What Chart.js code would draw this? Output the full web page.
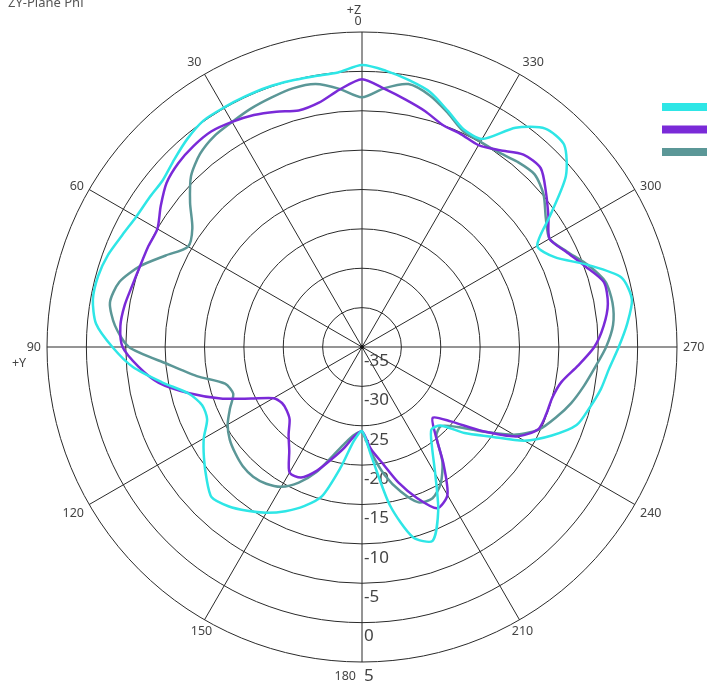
<!DOCTYPE html>
<html>
<head>
<meta charset="utf-8">
<title>ZY-Plane Phi</title>
<script src="https://cdn.jsdelivr.net/npm/chart.js@4.4.1/dist/chart.umd.min.js"></script>
<style>
  html, body { margin: 0; padding: 0; background: #fff; }
  #wrap { position: relative; width: 707px; height: 689px; overflow: hidden; }
</style>
</head>
<body>
<div id="wrap"><canvas id="patternChart" width="707" height="689"></canvas></div>
<script>
// Angles in degrees, counter-clockwise from +Z (top of the plot)
const angles = [];
for (let a = 0; a < 360; a += 5) angles.push(a);

const spokeLabels = [0, 30, 60, 90, 120, 150, 180, 210, 240, 270, 300, 330];
const radialTicks = [-35, -30, -25, -20, -15, -10, -5, 0, 5];

// gain (dB) at 0, 5, 10 ... 355 degrees
const cyanGain = [
    0.8, 0.0, -0.1, 0.0, 0.1, 0.1, 0.1, 0.1, -0.5, -1.3, -2.0, -2.0,
    -1.9, -1.4, -0.7, -0.3, -0.3, -1.1, -3.3, -5.8, -9.2, -12.2, -13.4, -13.3,
    -11.8, -10.5, -9.2, -8.0, -8.6, -9.6, -10.7, -12.0, -13.5, -15.4, -19.5, -23.0,
    -24.3, -21.0, -14.6, -10.0, -8.8, -12.1, -16.4, -19.5, -21.3, -20.9, -18.0, -15.2,
    -11.2, -8.4, -6.0, -5.1, -4.2, -3.5, -2.4, -1.2, -0.2, -0.9, -4.5, -8.0,
    -9.3, -5.8, -1.2, 1.3, 1.2, -1.0, -4.5, -4.5, -3.1, -1.5, -0.6, 0.2
];
const purpleGain = [
    -1.0, -2.2, -3.5, -3.9, -3.2, -2.5, -2.0, -1.6, -1.7, -2.0, -2.6, -3.8,
    -5.0, -5.0, -5.0, -4.8, -4.4, -4.2, -4.6, -6.5, -8.8, -12.3, -15.9, -19.5,
    -22.0, -22.6, -22.5, -22.0, -20.5, -18.9, -16.6, -16.7, -18.3, -20.3, -22.0, -23.6,
    -24.3, -22.0, -20.0, -17.2, -14.6, -12.4, -13.3, -17.0, -20.5, -22.3, -20.3, -16.4,
    -12.3, -10.3, -10.1, -10.0, -9.3, -7.5, -5.5, -4.2, -3.3, -3.2, -4.9, -6.4,
    -7.5, -6.1, -4.5, -2.9, -3.1, -4.5, -5.4, -5.2, -5.0, -4.0, -3.1, -2.1
];
const tealGain = [
    -3.3, -2.1, -1.1, -1.0, -1.3, -1.6, -2.0, -2.3, -3.0, -4.3, -6.5, -8.7,
    -9.5, -7.5, -5.0, -3.1, -2.5, -3.5, -5.4, -10.2, -13.7, -17.0, -17.6, -16.5,
    -15.3, -14.5, -14.0, -13.6, -13.5, -13.8, -14.5, -16.0, -18.1, -20.7, -22.6, -23.8,
    -24.2, -21.5, -18.5, -16.0, -14.0, -13.8, -15.0, -17.2, -20.3, -20.8, -19.2, -16.3,
    -12.7, -10.2, -8.8, -7.5, -6.4, -5.3, -4.0, -3.0, -2.7, -3.0, -4.5, -6.3,
    -7.5, -6.5, -4.9, -4.0, -4.3, -4.8, -4.9, -4.7, -3.3, -1.9, -1.1, -2.0
];

const colors = ['#2ee6e6', '#7a2ad8', '#5b9797'];

// radar goes clockwise from the top, the pattern goes counter-clockwise
const radarAngles = angles.map((a, i) => (360 - a) % 360);
function toRadar(series) {
    return radarAngles.map(a => series[angles.indexOf(a)]);
}
function radarIndex(deg) {
    return radarAngles.indexOf(deg % 360);
}

const fontFamily = '"Noto Sans", "Open Sans", sans-serif';

const overlayPlugin = {
    id: 'overlay',
    beforeDatasetsDraw(chart) {
        const ctx = chart.ctx;
        const r = chart.scales.r;
        const R = r.drawingArea;
        ctx.save();

        // radial tick labels down the 180 spoke
        ctx.font = '17px ' + fontFamily;
        ctx.fillStyle = '#444';
        ctx.textAlign = 'left';
        ctx.textBaseline = 'middle';
        radialTicks.forEach(v => {
            const d = r.getDistanceFromCenterForValue(v);
            ctx.fillText(String(v), r.xCenter + 2, r.yCenter + d + 14);
        });

        // angle labels
        ctx.font = '12.5px ' + fontFamily;
        ctx.fillStyle = '#444';
        spokeLabels.forEach(deg => {
            const p = r.getPointPosition(radarIndex(deg), R + 6);
            const rad = deg * Math.PI / 180;
            const c = Math.cos(rad);
            let x = p.x, y = p.y;
            let align = deg < 180 ? 'right' : 'left';
            if (deg === 0 || deg === 150 || deg === 210) align = 'center';
            let base = 'middle';
            if (c > 0.8) base = 'bottom';
            else if (c < -0.3) base = 'top';
            if (deg === 180) { align = 'right'; base = 'middle'; x -= 6; y += 8; }
            if (deg === 0) { x -= 4; y += 2; }
            ctx.textAlign = align;
            ctx.textBaseline = base;
            ctx.fillText(String(deg), x, y);
        });

        ctx.textAlign = 'center';
        ctx.textBaseline = 'middle';
        ctx.fillText('+Z', r.xCenter - 8, 10);
        ctx.fillText('+Y', 19, r.yCenter + 16);

        // title, cut at the top edge
        ctx.textAlign = 'left';
        ctx.textBaseline = 'alphabetic';
        ctx.font = '13px ' + fontFamily;
        ctx.fillStyle = '#555';
        ctx.fillText('ZY-Plane Phi', 8, 7);

        // centre dot
        ctx.fillStyle = '#111';
        ctx.beginPath();
        ctx.arc(r.xCenter, r.yCenter, 2, 0, Math.PI * 2);
        ctx.fill();

        // legend swatches (text is off the right edge)
        colors.forEach((col, i) => {
            ctx.fillStyle = col;
            ctx.fillRect(662, 103 + i * 22.5, 50, 8);
        });
        ctx.restore();
    }
};

const chart = new Chart(document.getElementById('patternChart'), {
    type: 'radar',
    data: {
        labels: radarAngles.map(String),
        datasets: [{
            label: 'Phi 1',
            data: toRadar(cyanGain),
            borderColor: colors[0]
        }, {
            label: 'Phi 2',
            data: toRadar(purpleGain),
            borderColor: colors[1]
        }, {
            label: 'Phi 3',
            data: toRadar(tealGain),
            borderColor: colors[2]
        }]
    },
    options: {
        responsive: false,
        animation: false,
        layout: { padding: { left: 47, right: 30, top: 32, bottom: 26 } },
        elements: {
            line: { borderWidth: 2.5, tension: 0.25, fill: false },
            point: { radius: 0, hoverRadius: 0 }
        },
        plugins: {
            legend: { display: false },
            tooltip: { enabled: false }
        },
        scales: {
            r: {
                min: -35,
                max: 5,
                ticks: { stepSize: 5, display: false },
                grid: { circular: true, color: '#2a2a2a', lineWidth: 1 },
                angleLines: {
                    color: '#2a2a2a',
                    lineWidth: ctx => (ctx.index % 6 === 0 ? 1 : 0)
                },
                pointLabels: { display: false }
            }
        }
    },
    plugins: [overlayPlugin]
});
</script>
</body>
</html>
